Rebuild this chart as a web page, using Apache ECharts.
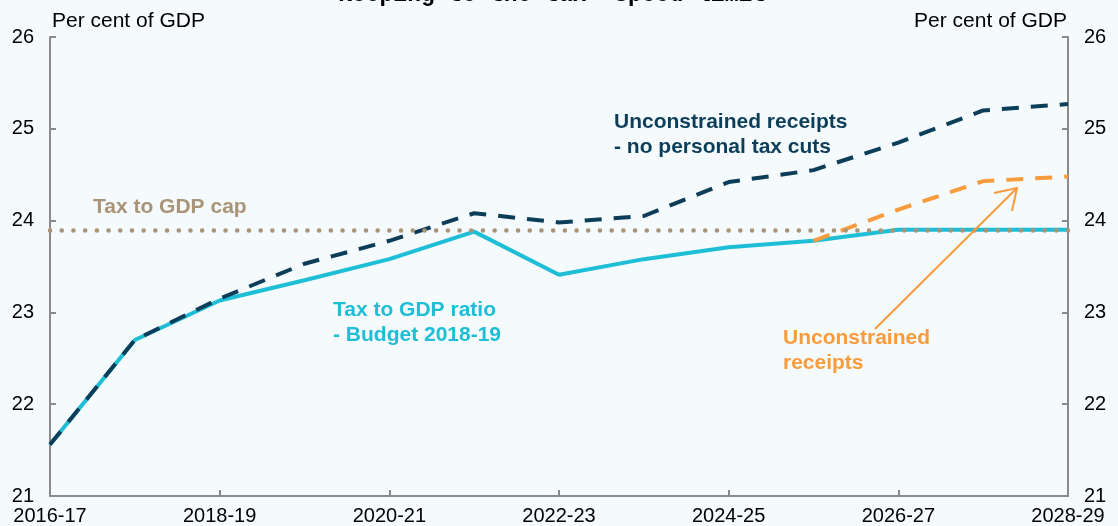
<!DOCTYPE html>
<html>
<head>
<meta charset="utf-8">
<script src="https://cdn.jsdelivr.net/npm/echarts@6/dist/echarts.min.js"></script>
<style>
  html, body { margin: 0; padding: 0; background: #f5fafd; }
  #chart { width: 1118px; height: 526px; }
</style>
</head>
<body>
<div id="chart"></div>
<script>
// financial years on the x axis
var years = ["2016-17", "2017-18", "2018-19", "2019-20", "2020-21", "2021-22", "2022-23",
  "2023-24", "2024-25", "2025-26", "2026-27", "2027-28", "2028-29"];
// tax to GDP ratio - Budget 2018-19
var taxRatio = [21.56, 22.70, 23.13, 23.35, 23.58, 23.88, 23.41, 23.58, 23.71, 23.78, 23.90, 23.90, 23.90];
// unconstrained receipts - no personal tax cuts
var noTaxCuts = [21.56, 22.70, 23.15, 23.53, 23.78, 24.08, 23.98, 24.05, 24.42, 24.55, 24.85, 25.20, 25.27];
// unconstrained receipts
var unconstrained = [null, null, null, null, null, null, null, null, null, 23.78, 24.12, 24.43, 24.48];
var capValue = 23.9;
var yTicks = [21, 22, 23, 24, 25, 26];

var cCyan = "#1ebed6";
var cNavy = "#0c3e5a";
var cOrange = "#f89b3c";
var cTan = "#a99478";
var cAxis = "#8a8a8a";
var font = "Liberation Sans, Arial, sans-serif";

var chart = echarts.init(document.getElementById("chart"));

function yAxisCfg(pos) {
  return {
    type: "value",
    position: pos,
    min: yTicks[0],
    max: yTicks[yTicks.length - 1],
    interval: 1,
    name: "Per cent of GDP",
    nameLocation: "end",
    nameGap: 5,
    nameTextStyle: {
      color: "#000",
      fontSize: 21,
      fontFamily: font,
      align: pos === "left" ? "left" : "right",
      padding: pos === "left" ? [0, 0, 0, 2] : [0, 1, 0, 0],
    },
    axisLine: { show: true, lineStyle: { color: cAxis, width: 2 } },
    axisTick: { show: true, inside: true, length: 6, lineStyle: { color: cAxis, width: 2 } },
    axisLabel: { color: "#000", fontSize: 20, fontFamily: font, margin: 16 },
    splitLine: { show: false },
  };
}

function note(text, x, y, color) {
  return {
    type: "text",
    left: x,
    top: y,
    z: 100,
    style: {
      text: text,
      fill: color,
      font: "bold 21px " + font,
      lineHeight: 25,
    },
  };
}

var option = {
  backgroundColor: "#f5fafd",
  animation: false,
  grid: { left: 50, right: 50, top: 37, bottom: 30 },
  xAxis: {
    type: "category",
    data: years,
    boundaryGap: false,
    axisLine: { lineStyle: { color: cAxis, width: 2 } },
    axisTick: { inside: true, length: 6, interval: 1, alignWithLabel: true, lineStyle: { color: cAxis, width: 2 } },
    axisLabel: { interval: 1, color: "#000", fontSize: 20, fontFamily: font, margin: 10 },
  },
  yAxis: [yAxisCfg("left"), yAxisCfg("right")],
  series: [
    {
      name: "Tax to GDP ratio - Budget 2018-19",
      type: "line",
      data: taxRatio,
      symbol: "none",
      z: 2,
      lineStyle: { color: cCyan, width: 4 },
    },
    {
      name: "Unconstrained receipts - no personal tax cuts",
      type: "line",
      data: noTaxCuts,
      symbol: "none",
      z: 3,
      lineStyle: { color: cNavy, width: 4, type: [17, 12] },
    },
    {
      name: "Unconstrained receipts",
      type: "line",
      data: unconstrained,
      symbol: "none",
      z: 4,
      lineStyle: { color: cOrange, width: 4, type: [17, 12] },
    },
    {
      name: "Tax to GDP cap",
      type: "line",
      data: [],
      z: 5,
      markLine: {
        silent: true,
        symbol: "none",
        label: { show: false },
        lineStyle: { color: cTan, width: 4.5, type: [0.1, 11.6], cap: "round" },
        data: [{ yAxis: capValue }],
      },
    },
  ],
  graphic: [
    {
      type: "text",
      left: "center",
      top: -16,
      style: {
        text: "Keeping to the tax \u2018speed limit\u2019",
        fill: "#000",
        font: "bold 23px Liberation Mono, monospace",
      },
    },
    note("Tax to GDP cap", 93, 195, cTan),
    note("Tax to GDP ratio\n- Budget 2018-19", 333, 298, cCyan),
    note("Unconstrained receipts\n- no personal tax cuts", 614, 110, cNavy),
    note("Unconstrained\nreceipts", 783, 326, cOrange),
    {
      type: "polyline",
      z: 90,
      shape: { points: [[875, 329], [1017, 188]] },
      style: { stroke: cOrange, lineWidth: 2, fill: null },
    },
    {
      type: "polyline",
      z: 90,
      shape: { points: [[994, 193], [1017, 188], [1012, 211]] },
      style: { stroke: cOrange, lineWidth: 2, fill: null },
    },
  ],
};

chart.setOption(option);
</script>
</body>
</html>
